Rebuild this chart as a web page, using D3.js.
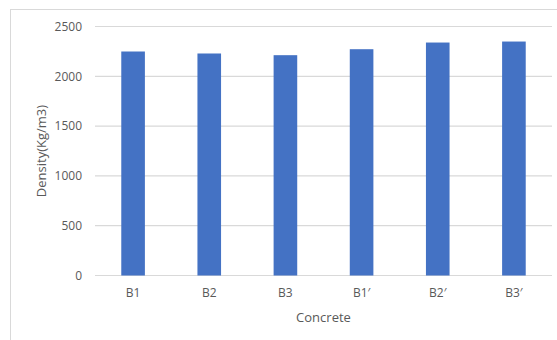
<!DOCTYPE html>
<html>
<head>
<meta charset="utf-8">
<script src="https://cdn.jsdelivr.net/npm/d3@7"></script>
<style>
  html, body { margin: 0; padding: 0; background: #fff; }
  svg text { font-family: "Open Sans", "Liberation Sans", sans-serif; fill: #595959; }
</style>
</head>
<body>
<svg id="chart" width="557" height="340"></svg>
<script>
// Concrete density per mix
const categories = ["B1", "B2", "B3", "B1\u2032", "B2\u2032", "B3\u2032"];
const densities = [2249, 2229, 2212, 2272, 2339, 2349];
const yTicks = [0, 500, 1000, 1500, 2000, 2500];

const svg = d3.select("#chart");
const W = 557, H = 340;
const plot = { left: 95, right: 552, top: 26.5, bottom: 275.5 };

// Chart area frame
svg.append("rect")
  .attr("x", 10.5).attr("y", 9.5)
  .attr("width", W + 10).attr("height", H + 10)
  .attr("fill", "#fff").attr("stroke", "#d9d9d9").attr("stroke-width", 1);

const x = d3.scaleBand()
  .domain(categories)
  .range([plot.left, plot.right])
  .paddingInner(0.69)
  .paddingOuter(0.345);

const y = d3.scaleLinear()
  .domain([0, 2500])
  .range([plot.bottom, plot.top]);

// Horizontal gridlines
svg.append("g")
  .selectAll("line")
  .data(yTicks)
  .join("line")
  .attr("x1", plot.left).attr("x2", plot.right)
  .attr("y1", d => y(d)).attr("y2", d => y(d))
  .attr("stroke", "#d9d9d9").attr("stroke-width", 1.2);

// Bars
svg.append("g")
  .selectAll("rect")
  .data(densities)
  .join("rect")
  .attr("x", (d, i) => x(categories[i]))
  .attr("width", x.bandwidth())
  .attr("y", d => y(d))
  .attr("height", d => y(0) - y(d))
  .attr("fill", "#4472c4");

// Value axis labels
const yAxis = d3.axisLeft(y).tickValues(yTicks).tickFormat(d3.format("d")).tickSize(0).tickPadding(13);
const gy = svg.append("g")
  .attr("transform", `translate(${plot.left},0)`)
  .call(yAxis);
gy.select(".domain").remove();
gy.selectAll("text")
  .attr("font-size", 12)
  .attr("font-family", "'Open Sans', sans-serif")
  .attr("fill", "#595959");

// Category axis labels
const xAxis = d3.axisBottom(x).tickSize(0).tickPadding(13);
const gx = svg.append("g")
  .attr("transform", `translate(0,${plot.bottom})`)
  .call(xAxis);
gx.select(".domain").remove();
gx.selectAll("text")
  .attr("font-size", 12)
  .attr("font-family", "'Open Sans', sans-serif")
  .attr("fill", "#595959");

// Axis titles
svg.append("text")
  .attr("x", (plot.left + plot.right) / 2)
  .attr("y", 322)
  .attr("text-anchor", "middle")
  .attr("font-size", 13)
  .text("Concrete");

svg.append("text")
  .attr("transform", `translate(46,${(plot.top + plot.bottom) / 2}) rotate(-90)`)
  .attr("text-anchor", "middle")
  .attr("font-size", 13)
  .text("Density(Kg/m3)");
</script>
</body>
</html>
